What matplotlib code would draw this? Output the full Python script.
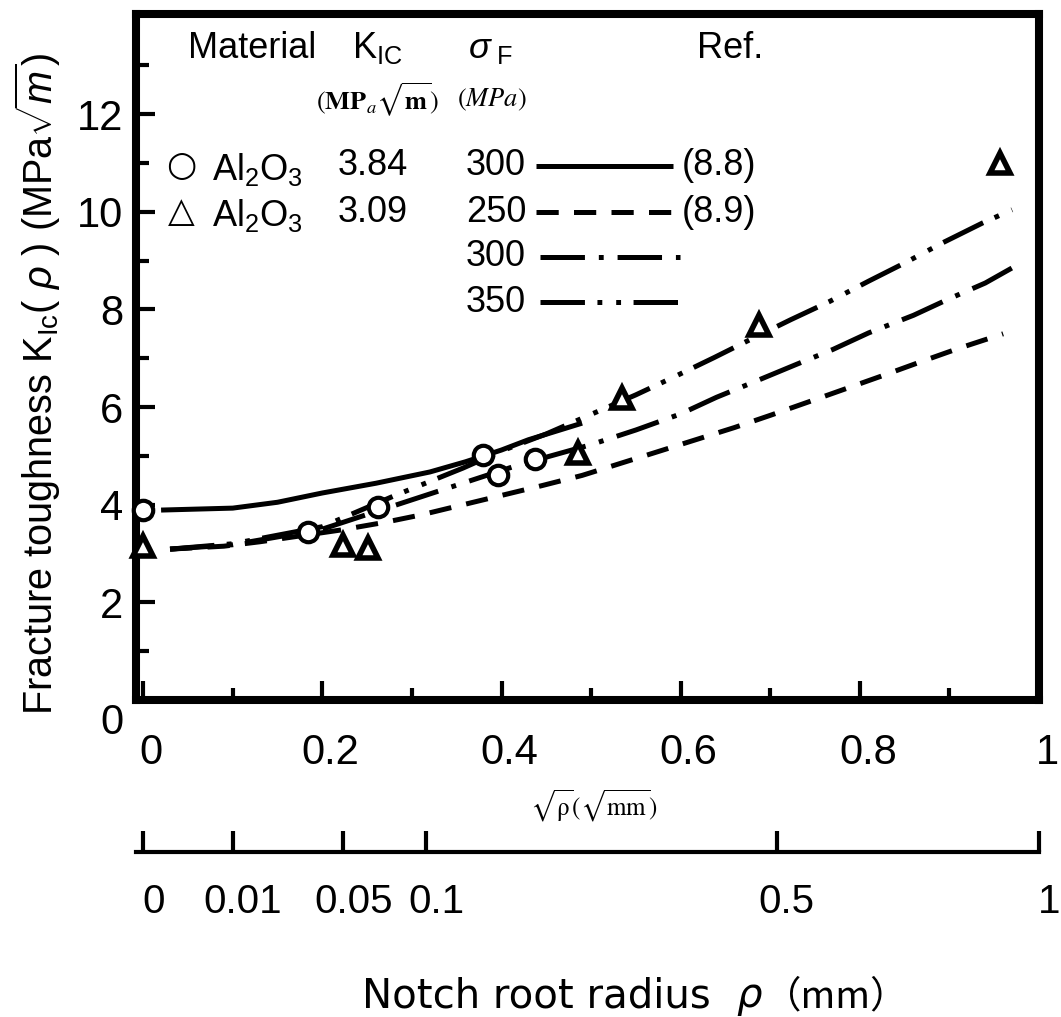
import numpy as np
import matplotlib
matplotlib.use("Agg")
import matplotlib.pyplot as plt
from matplotlib.lines import Line2D
from matplotlib.transforms import ScaledTranslation

plt.rcParams.update({
    'font.family': ['Liberation Sans', 'DejaVu Sans'],
    'mathtext.fontset': 'custom',
    'mathtext.rm': 'Liberation Sans',
    'mathtext.it': 'Liberation Sans:italic',
    'mathtext.bf': 'Liberation Sans:bold',
    'lines.scale_dashes': False,
})

# ---- measured points: sqrt(rho) [sqrt(mm)] vs K_Ic(rho) [MPa sqrt(m)] ----
circ_x = [0.0, 0.184, 0.262, 0.379, 0.396, 0.437]
circ_k = [3.90, 3.44, 3.96, 5.02, 4.61, 4.94]
tri_x = [0.0, 0.223, 0.251, 0.485, 0.535, 0.688, 0.956]
tri_k = [3.16, 3.18, 3.11, 5.06, 6.19, 7.68, 11.0]

# ---- predicted curves ----
# K_IC = 3.84, sigma_F = 300 (solid)
s300a_x = [0.02, 0.10, 0.15, 0.20, 0.26, 0.32, 0.36, 0.40, 0.43, 0.49]
s300a_k = [3.89, 3.93, 4.05, 4.24, 4.44, 4.67, 4.88, 5.12, 5.33, 5.67]
# K_IC = 3.09, sigma_F = 250 (dashed)
s250_x = [0.03, 0.09, 0.13, 0.22, 0.27, 0.31, 0.355, 0.40, 0.445, 0.49, 0.53,
          0.57, 0.615, 0.66, 0.70, 0.745, 0.785, 0.825, 0.87, 0.91, 0.96]
s250_k = [3.09, 3.15, 3.24, 3.48, 3.64, 3.79, 3.99, 4.19, 4.39, 4.60, 4.83,
          5.06, 5.32, 5.58, 5.83, 6.12, 6.38, 6.64, 6.94, 7.20, 7.50]
# K_IC = 3.09, sigma_F = 300 (dash-dot)
s300b_x = [0.03, 0.10, 0.20, 0.28, 0.35, 0.42, 0.50, 0.55, 0.60, 0.64, 0.68,
           0.73, 0.77, 0.81, 0.86, 0.90, 0.94, 0.97]
s300b_k = [3.09, 3.18, 3.50, 3.98, 4.40, 4.82, 5.23, 5.53, 5.86, 6.20, 6.50,
           6.88, 7.18, 7.52, 7.88, 8.22, 8.54, 8.85]
# K_IC = 3.09, sigma_F = 350 (dash-dot-dot)
s350_x = [0.03, 0.10, 0.20, 0.28, 0.357, 0.40, 0.45, 0.50, 0.55, 0.593, 0.637,
          0.673, 0.723, 0.766, 0.81, 0.85, 0.892, 0.937, 0.97]
s350_k = [3.09, 3.20, 3.55, 4.18, 4.75, 5.10, 5.45, 5.85, 6.25, 6.62, 7.01,
          7.34, 7.79, 8.16, 8.58, 8.95, 9.36, 9.77, 10.04]

# axis ticks
y_major = [0, 2, 4, 6, 8, 10, 12]
x_major = [0, 0.2, 0.4, 0.6, 0.8, 1.0]
x_major_labels = ['0', '0.2', '0.4', '0.6', '0.8', '1']
rho_ticks = [0, 0.01, 0.05, 0.1, 0.5, 1]
rho_labels = ['0', '0.01', '0.05', '0.1', '0.5', '1']

# legend-table rows
mat_symbols = ['\u25cb', '\u25b3']
mat_kic = ['3.84', '3.09']
sig_f = ['300', '250', '300', '350']
refs = ['(8.8)', '(8.9)', '', '']

W, H = 1061, 1017
fig = plt.figure(figsize=(W / 100, H / 100), dpi=100)


def fxy(x, y):
    return (x / W, 1 - y / H)


ax = fig.add_axes([136 / W, 1 - 700 / H, (1039 - 136) / W, (700 - 14) / H])
ax.set_xlim(-0.008, 1.0)
ax.set_ylim(0, 14.05)

LW = 3.6
DASHED = (16, 11)
DASHDOT = (32, 10, 3.5, 10)
DASHDOTDOT = (32, 9, 3.5, 10, 3.5, 9)
styles = [None, DASHED, DASHDOT, DASHDOTDOT]

ax.plot(s300a_x, s300a_k, color='k', lw=LW, solid_capstyle='butt', zorder=2)
ax.plot(s250_x, s250_k, color='k', lw=LW, dashes=DASHED, dash_capstyle='butt', zorder=2)
ax.plot(s300b_x, s300b_k, color='k', lw=LW, dashes=DASHDOT, dash_capstyle='butt', zorder=2)
ax.plot(s350_x, s350_k, color='k', lw=LW, dashes=DASHDOTDOT, dash_capstyle='butt', zorder=2)

ax.plot(circ_x, circ_k, 'o', ms=14, mfc='white', mec='k', mew=3.0,
        clip_on=False, zorder=5)
ax.plot(tri_x, tri_k, '^', ms=14, mfc='white', mec='k', mew=4.0,
        clip_on=False, zorder=5)

for sp in ax.spines.values():
    sp.set_linewidth(5.8)
    sp.set_capstyle('projecting')

ax.set_yticks(y_major)
ax.set_yticks([1, 3, 5, 7, 9, 11, 13], minor=True)
ax.set_xticks(x_major)
ax.set_xticklabels(x_major_labels)
ax.set_xticks([0.1, 0.3, 0.5, 0.7, 0.9], minor=True)
ax.tick_params(which='both', direction='in', top=False, right=False,
               width=3.0, labelsize=30)
ax.tick_params(which='major', length=14)
ax.tick_params(which='minor', length=9)
ax.tick_params(axis='y', pad=9)
ax.tick_params(axis='x', pad=24)

# nudge a few tick labels as laid out on the printed scale
yt0 = ax.yaxis.get_major_ticks()[0].label1
yt0.set_transform(yt0.get_transform() + ScaledTranslation(0, -0.19, fig.dpi_scale_trans))
for tk in ax.xaxis.get_major_ticks():
    tk.label1.set_transform(tk.label1.get_transform() +
                            ScaledTranslation(0.08, 0, fig.dpi_scale_trans))


# second scale: notch root radius rho itself
def fwd(u):
    u = np.asarray(u, dtype=float)
    return np.sign(u) * u ** 2


def inv(r):
    r = np.asarray(r, dtype=float)
    return np.sign(r) * np.sqrt(np.abs(r))


secax = ax.secondary_xaxis(-0.222, functions=(fwd, inv))
secax.set_xticks(rho_ticks)
secax.set_xticklabels(rho_labels)
secax.spines['bottom'].set_linewidth(3.0)
secax.tick_params(direction='in', length=15, width=3.0, labelsize=29, pad=22)
for tk in secax.xaxis.get_major_ticks():
    tk.label1.set_transform(tk.label1.get_transform() +
                            ScaledTranslation(0.1, 0, fig.dpi_scale_trans))

# axis titles
fig.text(*fxy(38, 384),
         r"Fracture toughness K$_{\mathrm{Ic}}$( $\rho$ ) (MPa$\sqrt{m}$)",
         rotation=90, ha='center', va='center', fontsize=28.5)
fig.text(*fxy(594, 806), r"$\sqrt{\mathrm{\rho}}(\sqrt{\mathrm{mm}})$",
         ha='center', va='center', fontsize=18, math_fontfamily='stix')

TITLE_Y = 1007
t1 = fig.text(*fxy(362, TITLE_Y), "Notch root radius  ", ha='left',
              va='baseline', fontsize=29, family=['DejaVu Sans'])
fig.canvas.draw()
r = fig.canvas.get_renderer()
bb = t1.get_window_extent(r)
t2 = fig.text(bb.x1 / W, 1 - TITLE_Y / H, "\u03c1", fontsize=29, style='italic',
              va='baseline', family=['DejaVu Sans'])
bb2 = t2.get_window_extent(r)
fig.text((bb2.x1 + 2) / W, 1 - TITLE_Y / H, "\uff08mm\uff09", va='baseline',
         fontsize=27, family=['Noto Sans CJK JP', 'DejaVu Sans'])

# legend table
TS = 26
fig.text(*fxy(252, 48), "Material", ha='center', va='center', fontsize=TS)
fig.text(*fxy(352, 48), r"K$_{\mathrm{IC}}$", ha='left', va='center', fontsize=TS)
fig.text(*fxy(468, 48), r"$\sigma_{\ \mathrm{F}}$", ha='left', va='center', fontsize=TS)
fig.text(*fxy(730, 48), "Ref.", ha='center', va='center', fontsize=TS)
fig.text(*fxy(378, 100), r"$(\mathbf{MP}_{a}\sqrt{\mathbf{m}})$", ha='center',
         va='center', fontsize=19, math_fontfamily='stix')
fig.text(*fxy(492, 100), r"$(MPa)$", ha='center', va='center', fontsize=19,
         math_fontfamily='stix')

row_y = [166, 212, 257, 302]
for i in range(2):
    fig.text(*fxy(181, row_y[i]), mat_symbols[i], ha='center', va='center',
             fontsize=25, family=['DejaVu Sans'])
    fig.text(*fxy(212, row_y[i] + 3), r"Al$_2$O$_3$", ha='left', va='center',
             fontsize=TS)
    fig.text(*fxy(373, row_y[i]), mat_kic[i], ha='center', va='center', fontsize=TS)
for i in range(4):
    fig.text(*fxy(496, row_y[i]), sig_f[i], ha='center', va='center', fontsize=TS)
    x0, x1 = (536, 673) if i < 2 else (540, 680)
    ln = Line2D([x0 / W, x1 / W], [1 - row_y[i] / H] * 2, transform=fig.transFigure,
                color='k', lw=LW)
    if styles[i] is not None:
        ln.set_dashes(styles[i])
        ln.set_dash_capstyle('butt')
    else:
        ln.set_solid_capstyle('butt')
    fig.add_artist(ln)
    if refs[i]:
        fig.text(*fxy(719, row_y[i]), refs[i], ha='center', va='center', fontsize=TS)

fig.savefig("out.png", dpi=100)
